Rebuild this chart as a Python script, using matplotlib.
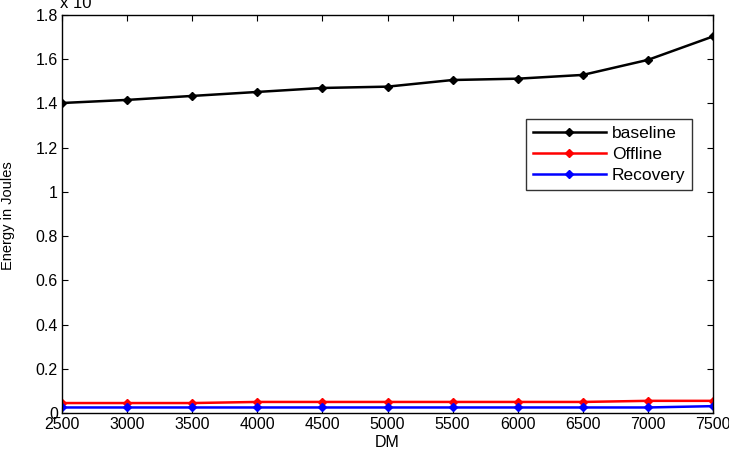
import numpy as np
import matplotlib.pyplot as plt

plt.rcParams['font.family'] = ['Liberation Sans', 'DejaVu Sans']

dm = [2500, 3000, 3500, 4000, 4500, 5000, 5500, 6000, 6500, 7000, 7500]
baseline = [1.402, 1.416, 1.434, 1.452, 1.470, 1.476, 1.506, 1.512, 1.529, 1.597, 1.703]
offline = [0.045, 0.045, 0.045, 0.050, 0.050, 0.050, 0.050, 0.050, 0.050, 0.055, 0.055]
recovery = [0.025, 0.025, 0.025, 0.025, 0.025, 0.025, 0.025, 0.025, 0.025, 0.025, 0.031]

fig = plt.figure(figsize=(7.29, 4.54), dpi=100)
ax = fig.add_axes([62/729, 41/454, 651/729, 398/454])

ax.plot(dm, baseline, color='black', marker='D', markersize=4.5, lw=1.8, label='baseline')
ax.plot(dm, offline, color='red', marker='D', markersize=4.5, lw=1.8, label='Offline')
ax.plot(dm, recovery, color='blue', marker='D', markersize=4.5, lw=1.8, label='Recovery')

ax.set_xlim(2500, 7500)
ax.set_ylim(0, 1.8)
ax.set_xticks(dm)
ax.set_yticks(np.arange(0, 1.81, 0.2))
ax.set_yticklabels(['0', '0.2', '0.4', '0.6', '0.8', '1', '1.2', '1.4', '1.6', '1.8'])
ax.tick_params(direction='in', top=True, right=True, labelsize=11.5, length=4, pad=3)
for s in ax.spines.values():
    s.set_linewidth(1.0)

ax.set_xlabel('DM', fontsize=11.5, labelpad=2)
ax.set_ylabel('Energy in Joules', fontsize=10.5)
ax.yaxis.set_label_coords(-0.072, 0.495)
ax.text(60/729, 1.0 - 11/454, 'x 10', transform=fig.transFigure, fontsize=12,
        ha='left', va='bottom')

leg = ax.legend(loc='upper right', bbox_to_anchor=(0.968, 0.738), fancybox=False,
                edgecolor='black', fontsize=12.5, handlelength=4.2, borderpad=0.4,
                labelspacing=0.33, handletextpad=0.35, borderaxespad=0)
leg.get_frame().set_linewidth(1.0)

fig.savefig('out.png', dpi=100)
